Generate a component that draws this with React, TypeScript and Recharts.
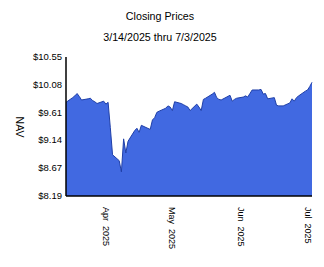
import React from 'react';
import { AreaChart, Area, XAxis, YAxis } from 'recharts';

const tradingDates = [
  '2025-03-14', '2025-03-17', '2025-03-18', '2025-03-19', '2025-03-20', '2025-03-21',
  '2025-03-24', '2025-03-25', '2025-03-26', '2025-03-27', '2025-03-28', '2025-03-31',
  '2025-04-01', '2025-04-02', '2025-04-03', '2025-04-04', '2025-04-07', '2025-04-08',
  '2025-04-09', '2025-04-10', '2025-04-11', '2025-04-14', '2025-04-15', '2025-04-16',
  '2025-04-17', '2025-04-21', '2025-04-22', '2025-04-23', '2025-04-24', '2025-04-25',
  '2025-04-28', '2025-04-29', '2025-04-30', '2025-05-01', '2025-05-02', '2025-05-05',
  '2025-05-06', '2025-05-07', '2025-05-08', '2025-05-09', '2025-05-12', '2025-05-13',
  '2025-05-14', '2025-05-15', '2025-05-16', '2025-05-19', '2025-05-20', '2025-05-21',
  '2025-05-22', '2025-05-23', '2025-05-27', '2025-05-28', '2025-05-29', '2025-05-30',
  '2025-06-02', '2025-06-03', '2025-06-04', '2025-06-05', '2025-06-06', '2025-06-09',
  '2025-06-10', '2025-06-11', '2025-06-12', '2025-06-13', '2025-06-16', '2025-06-17',
  '2025-06-18', '2025-06-20', '2025-06-23', '2025-06-24', '2025-06-25', '2025-06-26',
  '2025-06-27', '2025-06-30', '2025-07-01', '2025-07-02', '2025-07-03',
];

const navValues = [
  9.78, 9.86, 9.89, 9.93, 9.88, 9.82,
  9.84, 9.85, 9.81, 9.79, 9.76, 9.80,
  9.75, 9.78, 9.35, 8.89, 8.79, 8.60,
  9.16, 8.92, 9.12, 9.30, 9.34, 9.27,
  9.39, 9.32, 9.48, 9.52, 9.61, 9.63,
  9.68, 9.72, 9.70, 9.64, 9.79, 9.76,
  9.74, 9.72, 9.70, 9.64, 9.75, 9.70,
  9.64, 9.83, 9.85, 9.92, 9.95, 9.86,
  9.83, 9.82, 9.90, 9.80, 9.83, 9.85,
  9.87, 9.89, 9.87, 9.93, 9.99, 9.99,
  10.00, 9.92, 9.93, 9.84, 9.86, 9.73,
  9.72, 9.72, 9.77, 9.84, 9.80, 9.86,
  9.89, 9.97, 9.99, 10.05, 10.12,
];

const yTicks = [8.19, 8.67, 9.14, 9.61, 10.08, 10.55];
const monthTickDates = ['2025-04-01', '2025-05-01', '2025-06-01', '2025-07-01'];
const monthLabels = ['Apr', 'May', 'Jun', 'Jul'];
const tickYear = '2025';

const FONT = '"Liberation Sans", Arial, sans-serif';
const DAY_MS = 86400000;
const START = '2025-03-14';
const END = '2025-07-03';
const dayOf = (iso: string) => (Date.parse(iso) - Date.parse(START)) / DAY_MS;

const data = tradingDates.map((d, i) => ({ day: dayOf(d), nav: navValues[i] }));
const xTicks = monthTickDates.map(dayOf);

// month labels run top-to-bottom under the axis, "Apr  2025"
const MonthTick = ({ x, y, payload }: any) => {
  const i = xTicks.indexOf(payload.value);
  return (
    <text
      transform={`translate(${x},${y + 3}) rotate(90)`}
      textAnchor="start"
      dominantBaseline="central"
      fontFamily={FONT}
      fontSize={9}
      fill="#000"
    >
      <tspan>{monthLabels[i]}</tspan>
      <tspan dx={5}>{tickYear}</tspan>
    </text>
  );
};

export default function App() {
  return (
    <div style={{ position: 'absolute', left: 0, top: 0, width: 324, height: 267, background: '#fff' }}>
      <AreaChart width={324} height={267} data={data} margin={{ top: 57, right: 12, bottom: 0, left: 0 }}>
        <XAxis
          dataKey="day"
          type="number"
          domain={[0, dayOf(END)]}
          ticks={xTicks}
          tick={<MonthTick />}
          tickLine={false}
          axisLine={{ stroke: '#000', strokeWidth: 1.5 }}
          height={71}
          interval={0}
        />
        <YAxis
          type="number"
          domain={[8.19, 10.55]}
          ticks={yTicks}
          tickFormatter={(v: number) => `$${v.toFixed(2)}`}
          tickLine={false}
          tickSize={0}
          tickMargin={4}
          axisLine={{ stroke: '#000', strokeWidth: 1.5 }}
          width={66}
          interval={0}
          tick={{ fontFamily: FONT, fontSize: 9.5, fill: '#000' }}
        />
        <Area
          type="linear"
          dataKey="nav"
          stroke="#1f3fa8"
          strokeWidth={1}
          fill="#4169e1"
          fillOpacity={1}
          isAnimationActive={false}
        />
      </AreaChart>
      <svg width={324} height={267} style={{ position: 'absolute', left: 0, top: 0, pointerEvents: 'none' }}>
        <text x={160} y={16} textAnchor="middle" dominantBaseline="central" fontFamily={FONT} fontSize={10.7} fill="#000">
          Closing Prices
        </text>
        <text x={160} y={37} textAnchor="middle" dominantBaseline="central" fontFamily={FONT} fontSize={10.7} fill="#000">
          3/14/2025 thru 7/3/2025
        </text>
        <text
          transform="translate(20,127) rotate(90)"
          textAnchor="middle"
          dominantBaseline="central"
          fontFamily={FONT}
          fontSize={10.5}
          fill="#000"
        >
          NAV
        </text>
      </svg>
    </div>
  );
}
